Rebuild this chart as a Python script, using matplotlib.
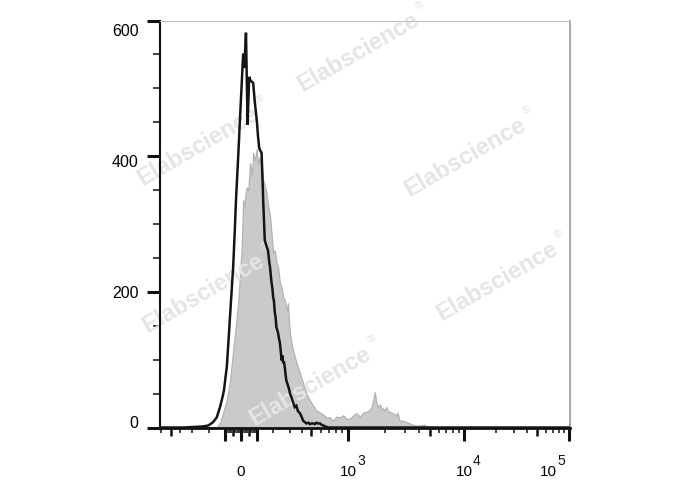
import numpy as np
import matplotlib
matplotlib.use('Agg')
import matplotlib.pyplot as plt
from matplotlib.ticker import NullLocator
from matplotlib.transforms import ScaledTranslation

plt.rcParams['font.family'] = ['Liberation Sans', 'DejaVu Sans']

# ---------------- data: counts per display channel (biexponential display, 0-1024) -------------
black_line_channel = [0, 60, 108, 121, 133, 142, 150, 156, 160, 164, 167, 171, 175, 179, 183, 187,
                      190, 193, 196, 200, 204, 208, 211, 215, 219, 223, 226, 229, 233, 237, 242,
                      245, 248, 251, 254, 257, 258, 262, 266, 270, 273, 275, 279, 281, 283, 285,
                      287, 289, 291, 295, 298, 300, 302, 304, 306, 308, 310, 312, 314, 316, 320,
                      323, 325, 329, 333, 337, 341, 345, 350, 354, 358, 362, 366, 371, 375, 379,
                      383, 387, 391, 395, 400, 404, 408, 412, 416, 420, 1024]
black_line_count = [0, 0, 1.5, 3, 8, 15, 30, 44, 55, 75, 89, 125, 163, 200, 237, 290,
                    335, 370, 405, 455, 503, 551, 530, 582, 446, 517, 512, 510, 508, 480, 453,
                    430, 412, 408, 405, 355, 335, 276, 268, 261, 245, 237, 213, 205, 192, 186,
                    170, 163, 148, 140, 130, 124, 112, 99, 106, 95, 97, 89, 78, 69, 62,
                    56, 50, 44, 37, 30, 32, 24, 21, 16, 10, 8, 6, 7, 5, 6,
                    6, 5, 7, 6, 6, 4, 3, 2, 1, 0, 0]

gray_fill_channel = [112, 142, 150, 158, 167, 175, 183, 190, 196, 200, 204, 208, 211, 214, 217,
                     221, 225, 228, 230, 233, 237, 240, 242, 245, 248, 250, 254, 258, 262, 266,
                     270, 273, 275, 279, 283, 287, 291, 295, 300, 304, 308, 312, 315, 318, 320,
                     322, 325, 330, 337, 343, 350, 358, 366, 375, 383, 391, 400, 408, 416, 425,
                     433, 441, 450, 458, 466, 475, 483, 491, 500, 508, 516, 522, 529, 533, 537,
                     541, 545, 550, 554, 558, 562, 566, 570, 574, 583, 591, 594, 599, 608, 616,
                     624, 633, 641, 649, 662, 667, 674]
gray_fill_count = [0, 0.5, 7, 22, 40, 69, 114, 151, 188, 225, 261, 335, 325, 345, 354,
                   350, 390, 380, 372, 405, 394, 402, 410, 387, 398, 394, 387, 365, 357, 347,
                   328, 318, 313, 284, 257, 261, 244, 237, 213, 207, 192, 188, 178, 173, 183,
                   160, 139, 121, 104, 92, 80, 65, 50, 40, 32, 25, 22, 19, 15, 15,
                   10, 16, 15, 18, 13, 13, 18, 21, 16, 22, 23, 25, 30, 40, 52,
                   37, 30, 34, 27, 28, 25, 30, 24, 23, 21, 18, 22, 10, 10, 8,
                   6, 4, 3, 3, 4, 1.5, 0]

y_ticks = [0, 200, 400, 600]
y_tick_labels = ['0', '200', '400', '600']
x_label_values = [0, 1e3, 1e4, 1e5]
x_tick_base = ['0', '10', '10', '10']
x_tick_exponent = ['', '3', '4', '5']

# biexponential axis calibration (log10 |value| -> channels away from zero)
calib_log = [2, 2.301, 2.699, 3, 3.301, 3.699, 4, 4.301, 4.699, 5]
calib_chan = [40, 80, 175, 268, 360, 472, 558, 637, 741, 821]
zero_chan = 202
lin_slope = 0.4


def to_channel(v):
    v = np.asarray(v, dtype=float)
    a = np.abs(v)
    lg = np.interp(np.log10(np.maximum(a, 1.0)), calib_log, calib_chan)
    d = np.where(a <= 100, lin_slope * a, lg)
    return zero_chan + np.sign(v) * d


# tick value sets
long_unlabeled = [-100, 100]
medium_vals = [-500, -50, 50, 500, 5e3, 5e4]
minor_vals = ([s * k for s in (-1, 1) for k in range(10, 100, 10) if k != 50]
              + [-200, -300, -400, -600, 200, 300, 400, 600, 700, 800, 900]
              + [k * 1e3 for k in (2, 3, 4, 6, 7, 8, 9)]
              + [k * 1e4 for k in (2, 3, 4, 6, 7, 8, 9)])

# ---------------- figure ----------------
fig = plt.figure(figsize=(6.88, 4.90), dpi=100)
W, H = 688, 490
DPI = 100
ax = fig.add_axes([160 / W, 1 - 427.5 / H, 409.5 / W, 407 / H])

ax.fill_between(gray_fill_channel, gray_fill_count, 0, facecolor='#cacaca',
                edgecolor='#b3b3b3', linewidth=0.9, zorder=1)
ax.plot(black_line_channel, black_line_count, color='#141414', lw=1.8, zorder=4,
        solid_joinstyle='miter')

ax.set_xlim(0, 1024)
ax.set_ylim(0, 600)

# spines
for s in ('left', 'bottom'):
    ax.spines[s].set_color('#111111')
ax.spines['left'].set_linewidth(1.5)
ax.spines['bottom'].set_linewidth(2.0)
ax.spines['top'].set_color('#bbbbbb')
ax.spines['top'].set_linewidth(0.7)
ax.spines['right'].set_color('#999999')
ax.spines['right'].set_linewidth(1.2)

# y ticks
ax.set_yticks(y_ticks, y_tick_labels)
ax.set_yticks(np.arange(0, 601, 50), minor=True)
ax.tick_params(axis='y', which='major', length=9.4, width=2.2, pad=6.0,
               labelsize=11.5, color='#111111', direction='out')
ax.tick_params(axis='y', which='minor', length=5, width=1.1, color='#111111',
               direction='out')
y_shift_pt = [3.8, 0.0, -3.6, -6.7]
for lab, dy in zip(ax.get_yticklabels(), y_shift_pt):
    lab.set_transform(lab.get_transform() + ScaledTranslation(0, dy / 72, fig.dpi_scale_trans))

# x ticks
major_vals = list(x_label_values) + long_unlabeled
major_labels = list(x_tick_base) + ['', '']
ax.set_xticks(to_channel(major_vals), major_labels)
ax.set_xticks(to_channel(minor_vals), minor=True)
ax.tick_params(axis='x', which='major', length=9.4, width=2.2, pad=25.5,
               labelsize=11, color='#111111', direction='out')
ax.tick_params(axis='x', which='minor', length=3.6, width=1.1, color='#111111',
               direction='out')
base_shift_px = [0, 0, 0, -20.5]
for i, lab in enumerate(ax.get_xticklabels()):
    lab.set_va('baseline')
    if i < 4 and base_shift_px[i]:
        lab.set_transform(lab.get_transform() +
                          ScaledTranslation(base_shift_px[i] / DPI, 0, fig.dpi_scale_trans))

# exponents of the decade labels
xform = ax.get_xaxis_transform()
for val, exp, dx in zip(x_label_values, x_tick_exponent, base_shift_px):
    if not exp:
        continue
    t = xform + ScaledTranslation((dx + 9.0) / DPI, -(465 - 427.5) / DPI, fig.dpi_scale_trans)
    ax.text(float(to_channel(val)), 0, exp, transform=t, ha='left', va='baseline',
            fontsize=10, color='#111111', clip_on=False)

sec = ax.secondary_xaxis('bottom')
sec.set_xticks(to_channel(medium_vals))
sec.xaxis.set_minor_locator(NullLocator())
sec.tick_params(axis='x', which='major', length=6, width=1.8, color='#111111',
                labelbottom=False, direction='out')
sec.spines['bottom'].set_visible(False)

# watermarks
wm_centers = [(358, 52), (198, 146), (465, 157), (203, 293), (497, 281), (310, 386)]
ang = np.deg2rad(30)
for cx, cy in wm_centers:
    fx, fy = cx / W, 1 - cy / H
    ax.text(fx, fy, 'Elabscience', transform=fig.transFigure, rotation=30,
            rotation_mode='anchor', ha='center', va='center', fontsize=17,
            fontweight='bold', color='#e5e5e5', zorder=2, clip_on=False)
    L = 72
    rx = cx + (L + 5) * np.cos(ang) - 9 * np.sin(ang)
    ry = cy - (L + 5) * np.sin(ang) - 9 * np.cos(ang)
    ax.text(rx / W, 1 - ry / H, '®', transform=fig.transFigure, rotation=30,
            ha='center', va='center', fontsize=8, color='#e3e3e3', zorder=2, clip_on=False)

fig.savefig('out.png', dpi=100)
